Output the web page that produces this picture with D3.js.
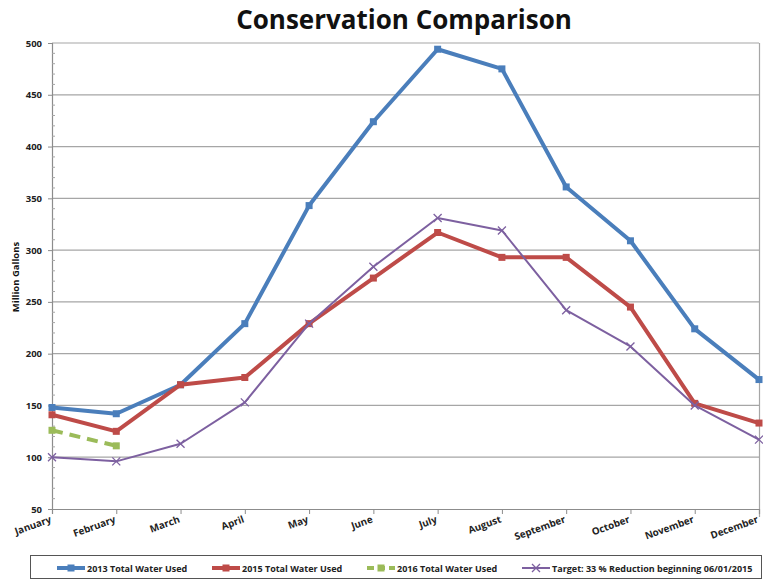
<!DOCTYPE html>
<html>
<head>
<meta charset="utf-8">
<script src="https://cdn.jsdelivr.net/npm/d3@7"></script>
<style>
  html, body { margin: 0; padding: 0; background: #fff; }
  svg { display: block; }
</style>
</head>
<body>
<svg id="chart" width="763" height="580"></svg>
<script>
// Monthly water use (million gallons)
const months = ["January","February","March","April","May","June","July","August","September","October","November","December"];
const used2013 = [148, 142, 170, 229, 343, 424, 494, 475, 361, 309, 224, 175];
const used2015 = [141, 125, 170, 177, 229, 273, 317, 293, 293, 245, 152, 133];
const used2016 = [126, 111];
const target   = [100, 96, 113, 153, 229, 284, 331, 319, 242, 207, 150, 117];
const yTicks = [50, 100, 150, 200, 250, 300, 350, 400, 450, 500];

const series = [
  { name: "2013 Total Water Used", values: used2013, color: "#4a7ebb", width: 4, marker: "square", dash: null },
  { name: "2015 Total Water Used", values: used2015, color: "#be4b48", width: 4, marker: "square", dash: null },
  { name: "2016 Total Water Used", values: used2016, color: "#9bbb59", width: 4, marker: "square", dash: "11,7" },
  { name: "Target: 33 % Reduction beginning 06/01/2015", values: target, color: "#7d60a0", width: 2, marker: "x", dash: null }
];

const svg = d3.select("#chart");
const font = "'Open Sans', 'Liberation Sans', sans-serif";

const plot = { left: 52, right: 759, top: 43, bottom: 509 };

const x = d3.scalePoint().domain(months).range([plot.left, plot.right]).padding(0);
const y = d3.scaleLinear().domain([50, 500]).range([plot.bottom, plot.top]);

// Title
svg.append("text")
  .attr("x", 404).attr("y", 29)
  .attr("text-anchor", "middle")
  .attr("font-family", font).attr("font-weight", 700)
  .attr("font-size", 26).attr("fill", "#111")
  .text("Conservation Comparison");

// Horizontal gridlines
svg.append("g").selectAll("line").data(yTicks.filter(d => d > 50)).join("line")
  .attr("x1", plot.left).attr("x2", plot.right)
  .attr("y1", d => y(d)).attr("y2", d => y(d))
  .attr("stroke", "#a6a6a6").attr("stroke-width", 1.2);

// Right plot border
svg.append("line")
  .attr("x1", plot.right + 0.5).attr("x2", plot.right + 0.5)
  .attr("y1", plot.top).attr("y2", plot.bottom + 8)
  .attr("stroke", "#a6a6a6").attr("stroke-width", 1.2);

// Y axis
const yAxis = d3.axisLeft(y).tickValues(yTicks).tickSize(4).tickPadding(6);
const gy = svg.append("g").attr("transform", `translate(${plot.left},0)`).call(yAxis);
gy.select(".domain").attr("stroke", "#8c8c8c").attr("stroke-width", 1.2);
gy.selectAll(".tick line").attr("stroke", "#8c8c8c");
gy.selectAll(".tick text")
  .attr("font-family", font).attr("font-weight", 700)
  .attr("font-size", 9.5).attr("fill", "#222");

// Minor ticks on the y axis
svg.append("g").selectAll("line")
  .data(d3.range(60, 500, 10).filter(d => d % 50 !== 0)).join("line")
  .attr("x1", plot.left).attr("x2", plot.left + 3)
  .attr("y1", d => y(d)).attr("y2", d => y(d))
  .attr("stroke", "#a6a6a6").attr("stroke-width", 1);

// X axis
const xAxis = d3.axisBottom(x).tickSize(5).tickFormat("");
const gx = svg.append("g").attr("transform", `translate(0,${plot.bottom})`).call(xAxis);
gx.select(".domain").attr("stroke", "#8c8c8c").attr("stroke-width", 1.2);
gx.selectAll(".tick line").attr("stroke", "#8c8c8c");

// Slanted month labels
svg.append("g").selectAll("text").data(months).join("text")
  .attr("transform", d => `translate(${x(d)},${plot.bottom + 13}) rotate(-20)`)
  .attr("text-anchor", "end")
  .attr("font-family", font).attr("font-weight", 700)
  .attr("font-size", 9.8).attr("fill", "#222")
  .text(d => d);

// Y axis title
svg.append("text")
  .attr("transform", `translate(19,277) rotate(-90)`)
  .attr("text-anchor", "middle")
  .attr("font-family", font).attr("font-weight", 700)
  .attr("font-size", 9.5).attr("fill", "#111")
  .text("Million Gallons");

// Series lines and markers
const line = d3.line().x((d, i) => x(months[i])).y(d => y(d));

function drawMarker(g, kind, color, cx, cy) {
  if (kind === "square") {
    g.append("rect")
      .attr("x", cx - 3.5).attr("y", cy - 3.5)
      .attr("width", 7).attr("height", 7)
      .attr("fill", color);
  } else {
    const s = 4;
    g.append("path")
      .attr("d", `M${cx - s},${cy - s}L${cx + s},${cy + s}M${cx - s},${cy + s}L${cx + s},${cy - s}`)
      .attr("stroke", color).attr("stroke-width", 1.3).attr("fill", "none");
  }
}

series.forEach(s => {
  const g = svg.append("g");
  g.append("path")
    .datum(s.values)
    .attr("d", line)
    .attr("fill", "none")
    .attr("stroke", s.color)
    .attr("stroke-width", s.width)
    .attr("stroke-linejoin", "round")
    .attr("stroke-dasharray", s.dash);
  s.values.forEach((v, i) => drawMarker(g, s.marker, s.color, x(months[i]), y(v)));
});

// Legend
const legend = svg.append("g");
legend.append("rect")
  .attr("x", 30.5).attr("y", 555.5)
  .attr("width", 731).attr("height", 23)
  .attr("fill", "#fff").attr("stroke", "#555").attr("stroke-width", 1);

const legendX = [57, 212, 367, 522];
series.forEach((s, i) => {
  const lg = legend.append("g").attr("transform", `translate(${legendX[i]},568)`);
  lg.append("line")
    .attr("x1", 0).attr("x2", 28).attr("y1", 0).attr("y2", 0)
    .attr("stroke", s.color).attr("stroke-width", s.width)
    .attr("stroke-dasharray", s.dash ? "7,4" : null);
  drawMarker(lg, s.marker, s.color, 14, 0);
  lg.append("text")
    .attr("x", 30).attr("y", 3.5)
    .attr("font-family", font).attr("font-weight", 700)
    .attr("font-size", 9).attr("fill", "#222")
    .text(s.name);
});
</script>
</body>
</html>
